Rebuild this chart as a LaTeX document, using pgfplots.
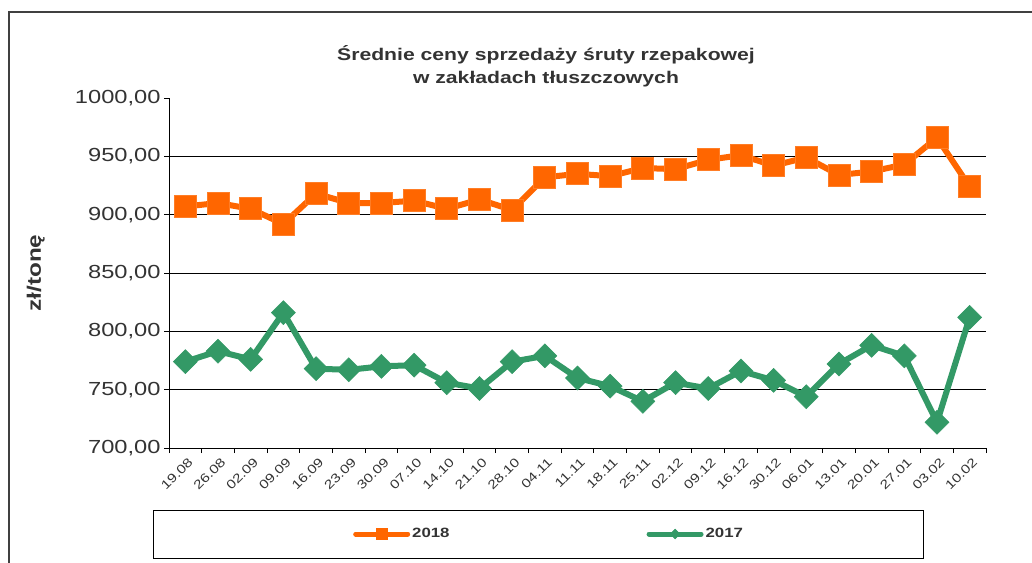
\documentclass[border=0pt]{standalone}
\usepackage{pgfplots}
\pgfplotsset{compat=1.18}
\usepackage{fontspec}
\setmainfont{Liberation Sans}
\newfontfamily\wide[FakeStretch=1.25]{Liberation Sans}
\definecolor{orng}{HTML}{FF6600}
\definecolor{grn}{HTML}{339966}
\definecolor{txt}{HTML}{333333}
\begin{document}
\begin{tikzpicture}[x=1bp,y=1bp]
\useasboundingbox (0,0) rectangle (1032,-563);
\draw[line width=1.2bp, black!75] (9,-563) -- (9,-12) -- (1032,-12);
\node[font=\wide\bfseries\fontsize{17}{23}\selectfont, text=txt, align=center] at (546,-66) {Średnie ceny sprzedaży śruty rzepakowej\\w zakładach tłuszczowych};
\draw[black, line width=1bp] (153,-510) rectangle (923,-558);
\begin{axis}[
 at={(169bp,-448bp)}, anchor=south west,
 scale only axis, width=817bp, height=350bp,
 xmin=-0.5, xmax=24.5, ymin=700, ymax=1000,
 axis x line*=bottom, axis y line*=left,
 axis line style={black, line width=1bp},
 tick align=outside,
 xtick={0,...,24},
 xticklabels={19.08,26.08,02.09,09.09,16.09,23.09,30.09,07.10,14.10,21.10,28.10,04.11,11.11,18.11,25.11,02.12,09.12,16.12,30.12,06.01,13.01,20.01,27.01,03.02,10.02},
 major x tick style={draw=none},
 minor xtick={-0.5,0.5,...,24.5},
 minor x tick style={black, line width=0.8bp},
 minor tick length=5bp,
 major tick length=5bp,
 ytick={700,750,...,950},
 extra y ticks={1000},
 extra y tick style={grid=none},
 ymajorgrids,
 major grid style={black, line width=1bp},
 y tick style={black, line width=0.8bp},
 yticklabel style={font=\wide\fontsize{19}{21}\selectfont, text=txt},
 xticklabel style={rotate=45, anchor=north east, font=\wide\fontsize{12.5}{14}\selectfont, text=txt, inner sep=1bp, yshift=-3bp},
 /pgf/number format/.cd, fixed, fixed zerofill, precision=2, use comma, 1000 sep={}, assume math mode=true,
 /pgfplots/.cd,
 ylabel={zł/tonę},
 ylabel style={at={(axis description cs:-0.163,0.5)}, anchor=center, font=\wide\bfseries\fontsize{19.5}{21}\selectfont, text=txt},
 legend style={draw=none, fill=none, at={(axis description cs:0.2252,-0.2457)}, anchor=west, inner sep=0pt,
   legend columns=2, font=\wide\bfseries\fontsize{13.5}{16}\selectfont, text=txt,
   /tikz/every even column/.append style={column sep=195bp}},
 legend image code/.code={\draw[#1, mark repeat=2, mark phase=2] plot coordinates {(0bp,0bp) (26bp,0bp) (52bp,0bp)};},
]
\addplot[orng, line width=6bp, mark=square*, mark size=11bp, mark options={solid, fill=orng, draw=orng!85!white, line width=0.8bp}, forget plot] coordinates {
(0,907) (1,910) (2,905) (3,892) (4,918) (5,910) (6,910) (7,912) (8,905) (9,913) (10,904) (11,932) (12,935) (13,933) (14,940) (15,939) (16,947) (17,951) (18,942) (19,949) (20,934) (21,937) (22,943) (23,966) (24,924)};
\addplot[grn, line width=6bp, mark=square*, mark size=8.5bp, mark options={solid, rotate=45, fill=grn, draw=grn, line width=0.5bp}, forget plot] coordinates {
(0,774) (1,783) (2,776) (3,816) (4,768) (5,767) (6,770) (7,771) (8,756) (9,751) (10,774) (11,779) (12,760) (13,753) (14,740) (15,756) (16,751) (17,766) (18,758) (19,744) (20,772) (21,788) (22,779) (23,722) (24,812)};
\addlegendimage{orng, line width=5bp, line cap=round, mark=square*, mark size=5.5bp, mark options={solid, fill=orng, draw=orng, line width=0.5bp}}
\addlegendentry{2018}
\addlegendimage{grn, line width=5bp, line cap=round, mark=square*, mark size=3.5bp, mark options={solid, rotate=45, fill=grn, draw=grn, line width=0.5bp}}
\addlegendentry{2017}
\end{axis}
\end{tikzpicture}
\end{document}
